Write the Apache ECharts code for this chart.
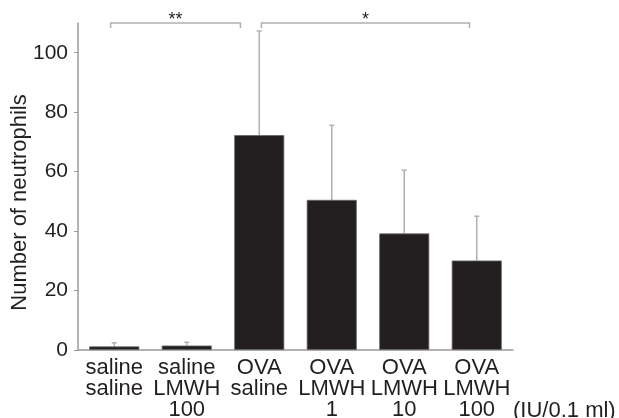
<!DOCTYPE html>
<html>
<head>
<meta charset="utf-8">
<script src="https://cdn.jsdelivr.net/npm/echarts@6/dist/echarts.min.js"></script>
<style>
  html, body { margin: 0; padding: 0; background: #fff; }
  #chart { width: 619px; height: 418px; }
</style>
</head>
<body>
<div id="chart"></div>
<script>
const categories = ["saline\nsaline", "saline\nLMWH\n100", "OVA\nsaline", "OVA\nLMWH\n1", "OVA\nLMWH\n10", "OVA\nLMWH\n100"]
const means = [1.2, 1.5, 72.3, 50.5, 39.2, 30.1]
const upper = [2.4, 2.6, 107.3, 75.6, 60.5, 45]
const yTicks = [0, 20, 40, 60, 80, 100]

// significance brackets, ends given in category units
const bracketFrom = [-0.05, 2.03]
const bracketTo = [1.74, 4.9]
const bracketLevel = [110, 110]
const bracketMarks = ["**", "*"]

const textColor = "#231f20"
const axisColor = "#9a9a9a"
const whiskerColor = "#b0b0b0"
const font = "Liberation Sans, Arial, sans-serif"

const chart = echarts.init(document.getElementById("chart"))

const option = {
  animation: false,
  grid: { left: 78, right: 106, top: 23, bottom: 68, outerBoundsMode: "none" },
  xAxis: {
    type: "category",
    data: categories,
    axisLine: { lineStyle: { color: axisColor, width: 1.5 } },
    axisTick: { show: false },
    axisLabel: {
      color: textColor,
      fontFamily: font,
      fontSize: 22,
      lineHeight: 21,
      margin: 7,
      interval: 0,
    },
  },
  yAxis: {
    type: "value",
    min: 0,
    max: 110,
    name: "Number of neutrophils",
    nameLocation: "middle",
    nameGap: 47,
    nameMoveOverlap: false,
    nameTextStyle: {
      color: textColor,
      fontFamily: font,
      fontSize: 22,
      padding: [0, 32, 0, 0],
    },
    axisLine: { show: true, lineStyle: { color: axisColor, width: 1.5 } },
    axisTick: { show: true, length: 4, customValues: yTicks, lineStyle: { color: axisColor } },
    axisLabel: {
      customValues: yTicks,
      color: textColor,
      fontFamily: font,
      fontSize: 21,
      margin: 10,
    },
    splitLine: { show: false },
  },
  series: [
    {
      type: "bar",
      data: means,
      barWidth: "69%",
      itemStyle: { color: "#231f20", borderColor: "#666", borderWidth: 0.8 },
      z: 2,
    },
    {
      type: "custom",
      data: means.map((m, i) => [i, m, upper[i]]),
      z: 1,
      renderItem(params, api) {
        const low = api.coord([api.value(0), api.value(1)])
        const high = api.coord([api.value(0), api.value(2)])
        const style = { stroke: whiskerColor, lineWidth: 1.5 }
        return {
          type: "group",
          children: [
            { type: "line", shape: { x1: low[0], y1: low[1], x2: high[0], y2: high[1] }, style },
            { type: "line", shape: { x1: high[0] - 2.5, y1: high[1], x2: high[0] + 2.5, y2: high[1] }, style },
          ],
        }
      },
    },
    {
      type: "custom",
      clip: false,
      data: bracketLevel.map((v) => [0, v]),
      renderItem(params, api) {
        const i = params.dataIndex
        const band = api.size([1, 0])[0]
        const base = api.coord([0, bracketLevel[i]])
        const x0 = base[0] + bracketFrom[i] * band
        const x1 = base[0] + bracketTo[i] * band
        const y = base[1]
        const style = { stroke: whiskerColor, lineWidth: 1.5, fill: null }
        return {
          type: "group",
          children: [
            { type: "polyline", shape: { points: [[x0, y + 5], [x0, y], [x1, y], [x1, y + 5]] }, style },
            {
              type: "text",
              x: (x0 + x1) / 2,
              y: y - 3,
              style: {
                text: bracketMarks[i],
                fill: textColor,
                fontSize: 18,
                fontFamily: font,
                align: "center",
                verticalAlign: "middle",
              },
            },
          ],
        }
      },
    },
  ],
  graphic: [
    {
      type: "text",
      left: 513,
      top: 400,
      style: {
        text: "(IU/0.1 ml)",
        fill: textColor,
        fontSize: 22,
        fontFamily: font,
      },
    },
  ],
}

chart.setOption(option)
</script>
</body>
</html>
